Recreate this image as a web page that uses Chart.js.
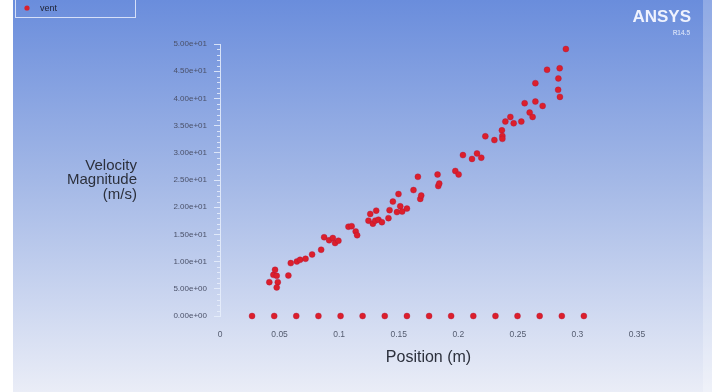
<!DOCTYPE html>
<html>
<head>
<meta charset="utf-8">
<script src="https://cdn.jsdelivr.net/npm/chart.js@4.4.1/dist/chart.umd.min.js"></script>
<style>
html,body{margin:0;padding:0;background:#fff;}
canvas{display:block;}
</style>
</head>
<body>
<canvas id="c" width="712" height="392"></canvas>
<script>
// ---- data ----
const seriesName = 'vent';
const cloudX = [0.0414,0.0448,0.0462,0.0476,0.0485,0.0476,0.0574,0.0594,0.0645,0.0672,0.0718,0.0773,0.0849,0.0874,0.0916,0.0947,0.0966,0.0994,
  0.1078,0.1105,0.1139,0.1151,0.1246,0.1261,0.1283,0.1303,0.1311,0.1330,0.1359,0.1414,0.1423,0.1451,0.1485,0.1498,0.1513,0.1529,0.1569,
  0.1624,0.1661,0.1681,0.1689,0.1826,0.1832,0.1840,0.1975,0.2003,0.2039,0.2115,0.2157,0.2193,0.2227,0.2303,0.2366,0.2370,0.2370,
  0.2395,0.2437,0.2465,0.2529,0.2557,0.2599,0.2624,0.2647,0.2647,0.2708,0.2745,0.2851,0.2840,0.2838,0.2853,0.2903];
const cloudY = [6.22,7.56,8.49,7.38,6.22,5.26,7.44,9.72,10.02,10.33,10.52,11.31,12.18,14.48,13.93,14.34,13.41,13.84,
  16.42,16.51,15.55,14.85,17.53,18.76,16.97,17.53,19.37,17.71,17.25,17.99,19.46,21.03,19.10,22.42,20.17,19.19,19.74,
  23.15,25.59,21.53,22.14,26.01,23.89,24.35,26.66,26.01,29.58,28.87,29.89,29.10,33.03,32.34,34.13,33.08,32.56,
  35.74,36.59,35.42,35.74,39.11,37.40,36.59,39.43,42.80,38.62,45.26,45.54,43.67,41.57,40.28,49.08];
const floorX = [0.0269,0.0455,0.0640,0.0826,0.1012,0.1197,0.1383,0.1569,0.1755,0.1940,0.2126,0.2312,0.2497,0.2683,0.2869,0.3054];
const floorY = [0,0,0,0,0,0,0,0,0,0,0,0,0,0,0,0];
const xTickLabels = ['0','0.05','0.1','0.15','0.2','0.25','0.3','0.35'];
const yTickLabels = ['0.00e+00','5.00e+00','1.00e+01','1.50e+01','2.00e+01','2.50e+01','3.00e+01','3.50e+01','4.00e+01','4.50e+01','5.00e+01'];
const xTitle = 'Position (m)';
const yTitleLines = ['Velocity','Magnitude','(m/s)'];
const logoText = 'ANSYS';
const logoSub = 'R14.5';

const points = [];
cloudX.forEach((x,i)=>points.push({x:x,y:cloudY[i]}));
floorX.forEach((x,i)=>points.push({x:x,y:floorY[i]}));

const FONT = '"Liberation Sans", Arial, sans-serif';
const axisCol = 'rgba(232,238,252,0.85)';

const decor = {
  id:'decor',
  beforeDraw(chart){
    const ctx = chart.ctx, W = chart.width, H = chart.height;
    ctx.save();
    const g = ctx.createLinearGradient(0,0,0,H);
    g.addColorStop(0,'#6a8ddc');
    g.addColorStop(0.45,'#a2b7e6');
    g.addColorStop(1,'#eaedf7');
    ctx.fillStyle = g;
    ctx.fillRect(0,0,W,H);
    ctx.fillStyle = '#ffffff';
    ctx.fillRect(0,0,13,H);
    ctx.fillStyle = 'rgba(255,255,255,0.25)';
    ctx.fillRect(703,0,W-703,H);
    ctx.restore();
  },
  afterDraw(chart){
    const ctx = chart.ctx;
    const ys = chart.scales.y, xs = chart.scales.x;
    ctx.save();
    // minor ticks on y axis
    ctx.strokeStyle = axisCol; ctx.lineWidth = 1;
    for(let v=1; v<50; v++){
      if(v%5===0) continue;
      const py = Math.round(ys.getPixelForValue(v))+0.5;
      ctx.beginPath(); ctx.moveTo(xs.left-3,py); ctx.lineTo(xs.left,py); ctx.stroke();
    }
    // y title
    ctx.fillStyle = '#2c303c';
    ctx.font = '15px '+FONT;
    ctx.textAlign = 'right'; ctx.textBaseline = 'middle';
    const mid = (ys.top+ys.bottom)/2;
    yTitleLines.forEach((t,i)=>ctx.fillText(t,137,mid+(i-1)*14.5));
    // x title
    ctx.font = '16px '+FONT;
    ctx.textAlign = 'center';
    ctx.fillText(xTitle,(xs.left+xs.right)/2,358);
    // legend box
    ctx.strokeStyle = 'rgba(240,244,255,0.8)';
    ctx.lineWidth = 1;
    ctx.strokeRect(15.5,-2.5,120,20);
    ctx.fillStyle = '#d9202c';
    ctx.beginPath(); ctx.arc(27,8,2.6,0,Math.PI*2); ctx.fill();
    ctx.fillStyle = '#1e2233';
    ctx.font = '9px '+FONT;
    ctx.textAlign = 'left';
    ctx.fillText(seriesName,40,9);
    // logo
    ctx.fillStyle = 'rgba(245,248,255,0.95)';
    ctx.font = 'bold 17px '+FONT;
    ctx.textAlign = 'right';
    ctx.fillText(logoText,691,17);
    ctx.fillStyle = 'rgba(225,232,250,0.8)';
    ctx.font = 'bold 6.5px '+FONT;
    ctx.fillText(logoSub,690,33);
    ctx.restore();
  }
};

new Chart(document.getElementById('c'),{
  type:'scatter',
  data:{datasets:[{
    label:seriesName,
    data:points,
    backgroundColor:'#dc1f2b',
    borderColor:'rgba(170,20,60,0.6)',
    borderWidth:0.6,
    pointRadius:3,
    clip:false
  }]},
  options:{
    responsive:false,
    animation:false,
    devicePixelRatio:1,
    layout:{padding:{left:0,top:44,right:75,bottom:0}},
    plugins:{legend:{display:false},tooltip:{enabled:false}},
    scales:{
      x:{
        type:'linear',min:0,max:0.35,
        afterFit(s){s.height = 76;},
        grid:{display:false,drawTicks:false},
        border:{display:false},
        ticks:{stepSize:0.05,padding:14,color:'#555c70',font:{size:8.5,family:FONT},
          callback:(v,i)=>xTickLabels[i]}
      },
      y:{
        min:0,max:50,
        afterFit(s){s.width = 220;},
        grid:{drawOnChartArea:false,drawTicks:true,tickLength:6,color:axisCol},
        border:{display:true,color:axisCol,width:1},
        ticks:{stepSize:5,padding:7,color:'#4a5068',font:{size:8,family:FONT},
          callback:(v,i)=>yTickLabels[i]}
      }
    }
  },
  plugins:[decor]
});
</script>
</body>
</html>
